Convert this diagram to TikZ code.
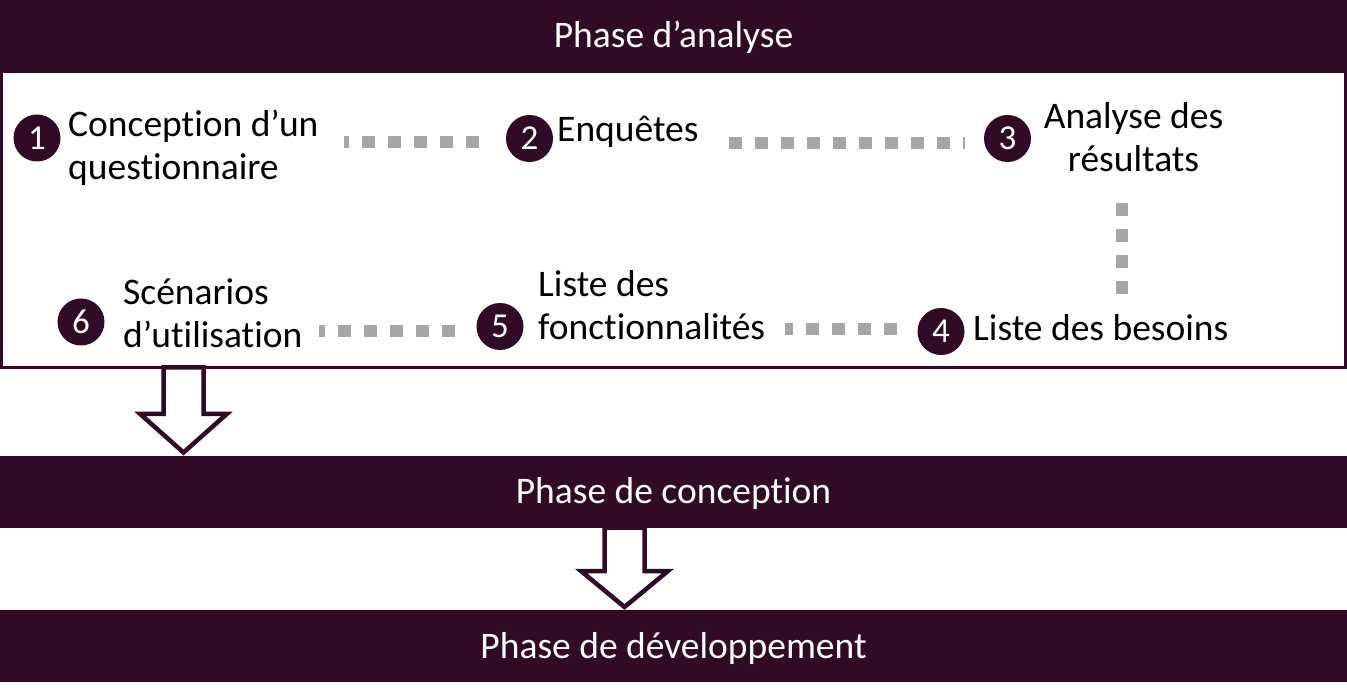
\documentclass[tikz,border=0pt]{standalone}
\usepackage{fontspec}
\setmainfont{Carlito}[Ligatures={NoCommon}]
\usetikzlibrary{calc}
\definecolor{plum}{HTML}{300A26}
\definecolor{dotgray}{HTML}{A6A6A6}
\newcommand\blockdown[4]{%
  \draw[blockarrow] let \p1=(#2.south), \p2=(#3.north) in
    (#1pt-20pt,\y1) -- (#1pt-20pt,\y1-#4pt) -- (#1pt-43.5pt,\y1-#4pt)
    -- (#1pt,\y2+3pt) -- (#1pt+43.5pt,\y1-#4pt) -- (#1pt+20pt,\y1-#4pt)
    -- (#1pt+20pt,\y1) -- cycle;}
\begin{document}
\begin{tikzpicture}[x=1pt,y=-1pt,
  bar/.style={fill=plum, text=white, minimum width=1347pt, minimum height=72pt,
    inner sep=0pt, outer sep=0pt, text height=27pt, text depth=3pt,
    font=\fontsize{37.5}{44}\selectfont, anchor=north west},
  num/.style={circle, fill=plum, text=white, minimum size=47pt, inner sep=0pt,
    font=\fontsize{35}{40}\selectfont},
  lbl/.style={inner sep=0pt, font=\fontsize{37.5}{43.5}\selectfont, anchor=base west, align=left},
  dotline/.style={draw=dotgray, line width=12pt, dash pattern=on 13pt off 13pt},
  blockarrow/.style={draw=plum, fill=white, line width=4.5pt, line join=miter}]
\useasboundingbox (0,0) rectangle (1347,692);
% frame of the analysis phase
\node[draw=plum, line width=2.7pt, minimum width=1344.3pt, minimum height=295.3pt,
  anchor=north west, inner sep=0pt, outer sep=0pt] (box) at (1.35,72) {};
% phase bars
\node[bar] (analyse) at (0,0) {Phase d’analyse};
\node[bar] (concep) at (0,455.5) {Phase de conception};
\node[bar] (dev) at (0,610) {Phase de développement};
% numbered steps
\node[num] (c1) at (37,138) {1};
\node[num] (c2) at (529.5,138.5) {2};
\node[num] (c3) at (1007.5,138.5) {3};
\node[num] (c4) at (941,331.5) {4};
\node[num] (c5) at (500,326.5) {5};
\node[num] (c6) at (81,322) {6};
% labels (base = baseline of the last line)
\node[lbl] (t1) at (68,180) {Conception d’un\\questionnaire};
\node[lbl] (t2) at (557,142) {Enquêtes};
\node[lbl, align=center, anchor=base] (t3) at (1133.5,172) {Analyse des\\résultats};
\node[lbl] (t4) at (973,341) {Liste des besoins};
\node[lbl] (t5) at (538,340) {Liste des\\fonctionnalités};
\node[lbl] (t6) at (123,348) {Scénarios\\d’utilisation};
% dotted connectors
\draw[dotline] ($(c2.west)+(-27,4)$) -- ($(t1.east |- c2.west)+(25,4)$);
\draw[dotline] ($(t2.east |- c3.west)+(30,4.5)$) -- ($(c3.west)+(-19,4.5)$);
\draw[dotline] ($(t3.south)+(-12,31)$) -- ($(t3.south |- t4.north)+(-12,-20)$);
\draw[dotline] ($(c4.west)+(-20.5,-2.5)$) -- ($(t5.east |- c4.west)+(20,-2.5)$);
\draw[dotline] ($(c5.west)+(-21,4.5)$) -- ($(t6.east |- c5.west)+(16,4.5)$);
% block arrows between phases
\blockdown{183.5}{box}{concep}{46.5}
\blockdown{624.5}{concep}{dev}{43.5}
\end{tikzpicture}
\end{document}
